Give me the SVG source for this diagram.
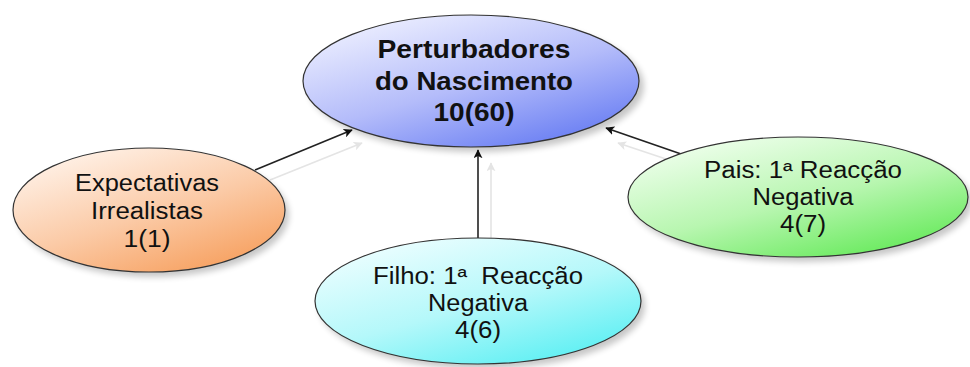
<svg xmlns="http://www.w3.org/2000/svg" width="970" height="367" viewBox="0 0 970 367">
<defs>
<style>
.node{stroke:#333;stroke-width:1.2}
.t{font-family:"Liberation Sans",Arial,sans-serif;font-size:23px;fill:#111;text-anchor:middle}
.b{font-weight:bold;font-size:25px}
.edge{stroke:#222;stroke-width:1.6;fill:none;marker-end:url(#ah)}
.ghost{stroke:#e4e4e4;stroke-width:1.6;fill:none;marker-end:url(#ahg)}
</style>
<marker id="ah" viewBox="0 0 12 12" refX="11" refY="6" markerWidth="9" markerHeight="9" markerUnits="userSpaceOnUse" orient="auto"><path d="M0,0 L12,6 L0,12 L3,6 Z" fill="#111"/></marker>
<marker id="ahg" viewBox="0 0 12 12" refX="11" refY="6" markerWidth="9" markerHeight="9" markerUnits="userSpaceOnUse" orient="auto"><path d="M0,0 L12,6 L0,12 L3,6 Z" fill="#e4e4e4"/></marker>
<filter id="sh" x="-20%" y="-20%" width="140%" height="140%"><feGaussianBlur stdDeviation="3"/></filter>
<linearGradient id="gBlue" x1="0.2" y1="0" x2="0.9" y2="1"><stop offset="0" stop-color="#eef0ff"/><stop offset="0.5" stop-color="#b4bcfa"/><stop offset="1" stop-color="#5d74f2"/></linearGradient>
<linearGradient id="gOrange" x1="0.2" y1="0" x2="0.9" y2="1"><stop offset="0" stop-color="#fff3ea"/><stop offset="0.5" stop-color="#fbcaa6"/><stop offset="1" stop-color="#f69a55"/></linearGradient>
<linearGradient id="gCyan" x1="0.2" y1="0" x2="0.9" y2="1"><stop offset="0" stop-color="#eefeff"/><stop offset="0.5" stop-color="#b4f8fa"/><stop offset="1" stop-color="#4eeef2"/></linearGradient>
<linearGradient id="gGreen" x1="0.2" y1="0" x2="0.9" y2="1"><stop offset="0" stop-color="#f0ffee"/><stop offset="0.5" stop-color="#b8f6b0"/><stop offset="1" stop-color="#5ae84e"/></linearGradient>
</defs>
<rect width="970" height="367" fill="#fff"/>
<g id="connectors">
<line class="ghost" x1="270" y1="180" x2="362" y2="143"/>
<line class="ghost" x1="491" y1="238" x2="491" y2="163"/>
<line class="ghost" x1="672" y1="161" x2="618" y2="143"/>
<line class="edge" x1="255" y1="170" x2="352" y2="130"/>
<line class="edge" x1="478" y1="240" x2="478" y2="150"/>
<line class="edge" x1="684" y1="155" x2="606" y2="128"/>
</g>
<g id="n-central">
<ellipse cx="476" cy="86" rx="168" ry="66" fill="#000" opacity="0.22" filter="url(#sh)"/>
<ellipse class="node" cx="471" cy="81" rx="168" ry="66" fill="url(#gBlue)"/>
<text class="t b" x="474" y="58" textLength="193" lengthAdjust="spacingAndGlyphs">Perturbadores</text>
<text class="t b" x="474" y="90" textLength="198" lengthAdjust="spacingAndGlyphs">do Nascimento</text>
<text class="t b" x="474" y="121" textLength="81" lengthAdjust="spacingAndGlyphs">10(60)</text>
</g>
<g id="n-expectativas">
<ellipse cx="153" cy="215" rx="136" ry="62" fill="#000" opacity="0.22" filter="url(#sh)"/>
<ellipse class="node" cx="149" cy="210" rx="136" ry="62" fill="url(#gOrange)"/>
<text class="t" x="147" y="191" textLength="144" lengthAdjust="spacingAndGlyphs">Expectativas</text>
<text class="t" x="147" y="219" textLength="112" lengthAdjust="spacingAndGlyphs">Irrealistas</text>
<text class="t" x="147" y="247" textLength="47" lengthAdjust="spacingAndGlyphs">1(1)</text>
</g>
<g id="n-filho">
<ellipse cx="482" cy="306" rx="163" ry="63" fill="#000" opacity="0.22" filter="url(#sh)"/>
<ellipse class="node" cx="478" cy="301" rx="163" ry="63" fill="url(#gCyan)"/>
<text class="t" x="478" y="284" textLength="210" lengthAdjust="spacingAndGlyphs" style="white-space:pre">Filho: 1ª  Reacção</text>
<text class="t" x="478" y="311" textLength="100" lengthAdjust="spacingAndGlyphs">Negativa</text>
<text class="t" x="478" y="338" textLength="46" lengthAdjust="spacingAndGlyphs">4(6)</text>
</g>
<g id="n-pais">
<ellipse cx="802" cy="202" rx="170" ry="60" fill="#000" opacity="0.22" filter="url(#sh)"/>
<ellipse class="node" cx="798" cy="197" rx="170" ry="60" fill="url(#gGreen)"/>
<text class="t" x="803" y="178" textLength="198" lengthAdjust="spacingAndGlyphs">Pais: 1ª Reacção</text>
<text class="t" x="803" y="205" textLength="101" lengthAdjust="spacingAndGlyphs">Negativa</text>
<text class="t" x="803" y="232" textLength="46" lengthAdjust="spacingAndGlyphs">4(7)</text>
</g>
</svg>
